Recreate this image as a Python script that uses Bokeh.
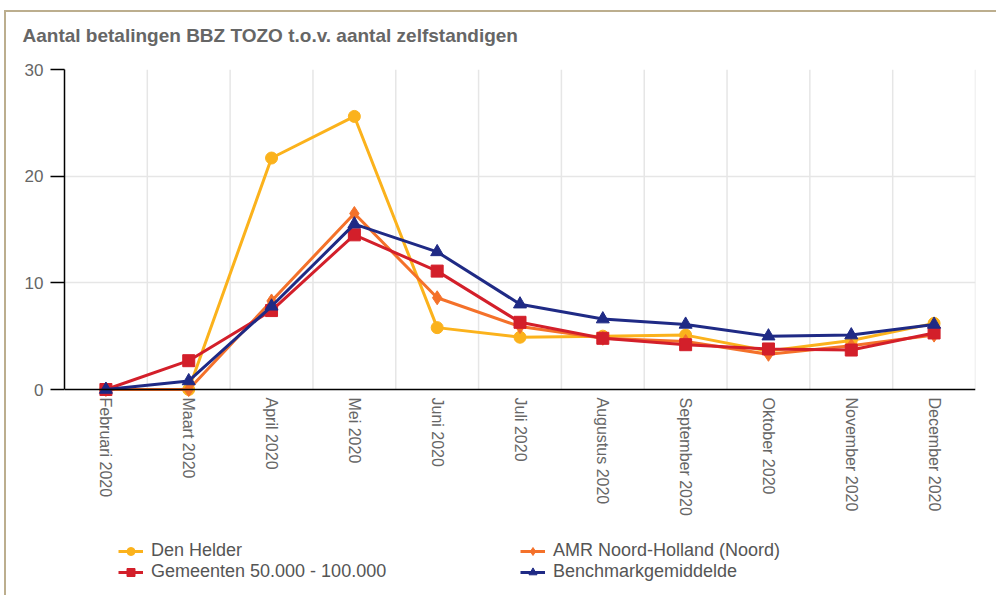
import math
from bokeh.plotting import figure
from bokeh.models import FixedTicker, Legend, LegendItem, Range1d, ColumnDataSource
from bokeh.embed import file_html
from bokeh.resources import INLINE

months = ["Februari 2020", "Maart 2020", "April 2020", "Mei 2020", "Juni 2020", "Juli 2020",
          "Augustus 2020", "September 2020", "Oktober 2020", "November 2020", "December 2020"]
den_helder = [0, 0, 21.7, 25.6, 5.8, 4.9, 5.0, 5.1, 3.6, 4.6, 6.2]
amr_noord = [0, 0, 8.3, 16.5, 8.6, 5.9, 4.8, 4.5, 3.3, 4.1, 5.1]
gemeenten = [0, 2.7, 7.4, 14.5, 11.1, 6.3, 4.8, 4.2, 3.8, 3.7, 5.3]
benchmark = [0, 0.8, 7.8, 15.5, 12.9, 8.0, 6.6, 6.1, 5.0, 5.1, 6.1]
y_ticks = [0, 10, 20, 30]

series = [
    ("Den Helder", den_helder, "#fbb21c", "circle", 12),
    ("AMR Noord-Holland (Noord)", amr_noord, "#f4712a", "diamond", 14),
    ("Gemeenten 50.000 - 100.000", gemeenten, "#d31f2a", "square", 12),
    ("Benchmarkgemiddelde", benchmark, "#1f2a85", "triangle", 13),
]

xs = list(range(len(months)))
y_max = y_ticks[-1]

# layout (pixels): plot area from y=69 (value 30) to y=389 (value 0);
# the frame continues below so the axis labels and legend live inside it.
plot_px = 320.0
below_px = 203.0
y_start = -below_px * y_max / plot_px

p = figure(width=996, height=595, output_backend="svg", toolbar_location=None,
           x_range=Range1d(-0.5, len(months) - 0.5), y_range=Range1d(y_start, y_max),
           min_border_left=64, min_border_right=21, min_border_top=69, min_border_bottom=3)
# thin tan frame lines (top and left) drawn as the element background
p.styles = {
    "background-image": "linear-gradient(#bcae8e, #bcae8e), linear-gradient(#bcae8e, #bcae8e)",
    "background-size": "100% 2px, 2px 100%",
    "background-position": "4px 10px, 4px 10px",
    "background-repeat": "no-repeat",
}
p.outline_line_color = None
p.background_fill_color = "white"
p.border_fill_alpha = 0

p.title.text = "Aantal betalingen BBZ TOZO t.o.v. aantal zelfstandigen"
p.title.align = "left"
p.title.vertical_align = "top"
p.title.offset = -42
p.title.standoff = 44
p.title.text_font = "Liberation Sans"
p.title.text_font_style = "bold"
p.title.text_font_size = "19px"
p.title.text_color = "#666666"

# vertical grid lines between the months (and right border), limited to the plot area
grid_x = [i + 0.5 for i in xs]
p.segment(x0=grid_x, y0=[0] * len(grid_x), x1=grid_x, y1=[y_max] * len(grid_x),
          line_color="#e6e6e6", line_width=1.5)
p.xgrid.visible = False

# axes
p.xaxis.fixed_location = 0
p.xaxis.ticker = FixedTicker(ticks=xs)
p.xaxis.major_label_overrides = {i: m for i, m in enumerate(months)}
p.xaxis.major_label_orientation = -math.pi / 2
p.xaxis.major_tick_out = 0
p.xaxis.major_tick_in = 0
p.xaxis.minor_tick_out = 0
p.xaxis.minor_tick_in = 0
p.xaxis.major_label_standoff = 8
p.xaxis.major_label_text_font = "Liberation Sans"
p.xaxis.major_label_text_font_size = "16px"
p.xaxis.major_label_text_color = "#666666"
p.xaxis.axis_line_color = "black"
p.xaxis.axis_line_width = 1.5

p.yaxis.bounds = (0, y_max)
p.yaxis.ticker = FixedTicker(ticks=y_ticks)
p.yaxis.major_tick_out = 14
p.yaxis.major_tick_in = 0
p.yaxis.minor_tick_out = 0
p.yaxis.minor_tick_in = 0
p.yaxis.major_tick_line_width = 1.5
p.yaxis.major_label_standoff = 7
p.yaxis.major_label_text_font = "Liberation Sans"
p.yaxis.major_label_text_font_size = "17px"
p.yaxis.major_label_text_color = "#666666"
p.yaxis.axis_line_color = "black"
p.yaxis.axis_line_width = 1.5

p.ygrid.ticker = FixedTicker(ticks=[t for t in y_ticks if t > 0])
p.ygrid.bounds = (0, y_max + 1)
p.ygrid.grid_line_color = "#e6e6e6"
p.ygrid.grid_line_width = 1.5

items = {}
for name, vals, color, marker, size in series:
    src = ColumnDataSource(dict(x=xs, y=vals))
    l = p.line("x", "y", source=src, line_color=color, line_width=3)
    s = p.scatter("x", "y", source=src, marker=marker, size=size, fill_color=color, line_color=color)
    items[name] = LegendItem(label=name, renderers=[l, s])

legend = Legend(
    items=[items["Den Helder"], items["Gemeenten 50.000 - 100.000"],
           items["AMR Noord-Holland (Noord)"], items["Benchmarkgemiddelde"]],
    location=(54, 10), orientation="vertical", ncols=2,
    border_line_color=None, background_fill_alpha=0, padding=0, margin=0, spacing=0,
    glyph_width=25, glyph_height=20, label_height=20, label_width=369, label_standoff=8,
    label_text_font="Liberation Sans", label_text_font_size="18px",
    label_text_color="#555555")
p.add_layout(legend)

open("out.html", "w").write(file_html(p, INLINE))
